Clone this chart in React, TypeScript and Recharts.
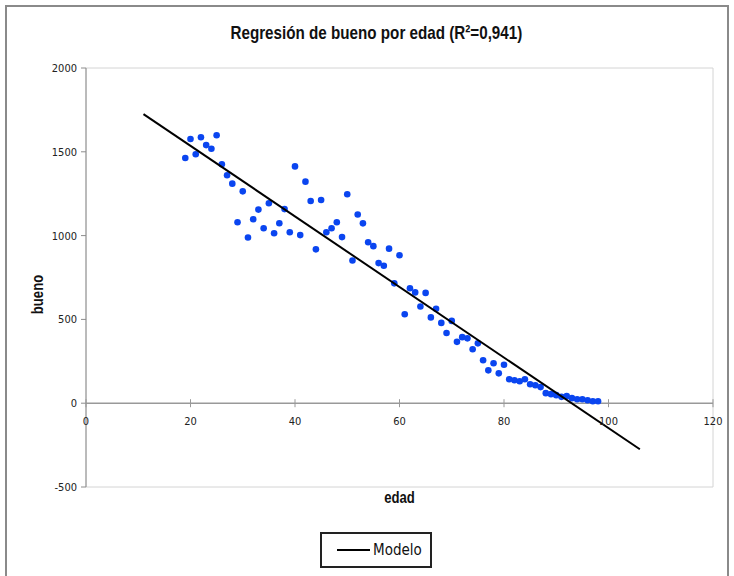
import React from 'react';
import { ScatterChart, Scatter, XAxis, YAxis, ReferenceLine, ReferenceArea } from 'recharts';

// edad (age) of every point, one per year
const EDAD = [
  19, 20, 21, 22, 23, 24, 25, 26, 27, 28, 29, 30, 31, 32, 33, 34, 35, 36, 37, 38,
  39, 40, 41, 42, 43, 44, 45, 46, 47, 48, 49, 50, 51, 52, 53, 54, 55, 56, 57, 58,
  59, 60, 61, 62, 63, 64, 65, 66, 67, 68, 69, 70, 71, 72, 73, 74, 75, 76, 77, 78,
  79, 80, 81, 82, 83, 84, 85, 86, 87, 88, 89, 90, 91, 92, 93, 94, 95, 96, 97, 98,
];

// bueno
const BUENO = [
  1463, 1576, 1485, 1587, 1540, 1518, 1599, 1426, 1360, 1310, 1080, 1264, 989, 1098, 1155, 1044, 1193, 1014, 1074, 1158,
  1020, 1413, 1003, 1322, 1206, 918, 1212, 1020, 1044, 1080, 991, 1247, 851, 1126, 1073, 960, 937, 836, 820, 922,
  715, 883, 531, 686, 661, 577, 658, 512, 563, 479, 419, 491, 366, 394, 387, 322, 357, 256, 196, 238,
  178, 229, 143, 137, 131, 143, 113, 107, 96, 60, 54, 48, 38, 42, 30, 24, 24, 18, 12, 12,
];

// regression line "Modelo" end points
const MODELO_EDAD = [11, 106];
const MODELO_BUENO = [1725, -275];

const X_TICKS = [0, 20, 40, 60, 80, 100, 120];
const Y_TICKS = [-500, 0, 500, 1000, 1500, 2000];

const puntos = EDAD.map((x, i) => ({ x, y: BUENO[i] }));
const modelo = MODELO_EDAD.map((x, i) => ({ x, y: MODELO_BUENO[i] }));

const W = 734;
const H = 576;
const MARGIN = { top: 68, right: 21, bottom: 59, left: 20 };
const Y_AXIS_W = 66;
const X_AXIS_H = 30;
const PLOT_H = H - MARGIN.top - MARGIN.bottom - X_AXIS_H;
const Y_MIN = -500;
const Y_MAX = 2000;
// pixel row of bueno = 0, where Excel puts the category axis
const ZERO_Y = MARGIN.top + (PLOT_H * (Y_MAX - 0)) / (Y_MAX - Y_MIN);

const FONT = "'Liberation Sans Narrow', 'Arial Narrow', 'DejaVu Sans Condensed', sans-serif";
const WIDE = "'Liberation Sans', Arial, sans-serif";

const XTick = (props: any) => {
  const { x, payload } = props;
  return (
    <g>
      <line x1={x} x2={x} y1={ZERO_Y - 4} y2={ZERO_Y + 4} stroke="#999" />
      <text x={x} y={ZERO_Y + 22} textAnchor="middle" fontSize={11} fill="#222" fontFamily={FONT}>
        {payload.value}
      </text>
    </g>
  );
};

const Dot = (props: any) => <circle cx={props.cx} cy={props.cy} r={3.3} fill="#0a45f0" />;

export default function App() {
  return (
    <div style={{ position: 'absolute', left: 0, top: 0, width: W, height: H, overflow: 'hidden', background: '#fff' }}>
      {/* outer chart frame */}
      <div
        style={{
          position: 'absolute', left: 5, top: 5, width: 724, height: 620,
          border: '2px solid #8a8a8a', boxSizing: 'border-box',
        }}
      />
      <div style={{ position: 'absolute', left: 0, top: 22, width: 752, textAlign: 'center' }}>
        <span
          style={{
            display: 'inline-block', transform: 'scaleX(0.8)', transformOrigin: 'center',
            fontFamily: WIDE, fontWeight: 'bold', fontSize: 19, color: '#111',
          }}
        >
          Regresión de bueno por edad (R²=0,941)
        </span>
      </div>

      <div style={{ position: 'absolute', left: 0, top: 0 }}>
        <ScatterChart width={W} height={H} margin={MARGIN}>
          <ReferenceArea x1={0} x2={120} y1={Y_MIN} y2={Y_MAX} fill="none" stroke="#d4d4d4" ifOverflow="extendDomain" />
          <XAxis
            type="number"
            dataKey="x"
            domain={[0, 120]}
            ticks={X_TICKS}
            interval={0}
            height={X_AXIS_H}
            axisLine={false}
            tickLine={false}
            tick={<XTick />}
            label={({ viewBox }: any) => {
              const cx = viewBox.x + viewBox.width / 2;
              const cy = viewBox.y + 11;
              return (
                <text
                  x={cx} y={cy} transform={`translate(${cx} ${cy}) scale(0.82 1) translate(${-cx} ${-cy})`}
                  textAnchor="middle" dominantBaseline="central"
                  fontFamily={WIDE} fontWeight="bold" fontSize={16} fill="#111"
                >
                  edad
                </text>
              );
            }}
          />
          <YAxis
            type="number"
            dataKey="y"
            domain={[Y_MIN, Y_MAX]}
            ticks={Y_TICKS}
            interval={0}
            width={Y_AXIS_W}
            stroke="#8c8c8c"
            tickSize={5}
            tickMargin={4}
            tick={{ fontSize: 11, fill: '#222', fontFamily: FONT }}
            label={({ viewBox }: any) => {
              const cx = viewBox.x + 18;
              const cy = viewBox.y + viewBox.height / 2 + 17;
              return (
                <text
                  x={cx} y={cy} transform={`rotate(-90 ${cx} ${cy}) translate(${cx} ${cy}) scale(0.82 1) translate(${-cx} ${-cy})`}
                  textAnchor="middle" dominantBaseline="central"
                  fontFamily={WIDE} fontWeight="bold" fontSize={16} fill="#111"
                >
                  bueno
                </text>
              );
            }}
          />
          <ReferenceLine y={0} stroke="#999" strokeWidth={1.5} />
          <Scatter data={puntos} shape={<Dot />} isAnimationActive={false} legendType="none" />
          <Scatter
            data={modelo}
            line={{ stroke: '#000', strokeWidth: 2 }}
            shape={() => <g />}
            isAnimationActive={false}
            legendType="none"
          />
        </ScatterChart>
      </div>

      {/* legend */}
      <div
        style={{
          position: 'absolute', left: 320, top: 532, width: 112, height: 36,
          border: '2px solid #222', boxSizing: 'border-box', display: 'flex', alignItems: 'center',
          fontFamily: FONT, fontSize: 15, color: '#111',
        }}
      >
        <div style={{ width: 33, height: 2, background: '#000', marginLeft: 15, marginRight: 3 }} />
        <span>Modelo</span>
      </div>
    </div>
  );
}
